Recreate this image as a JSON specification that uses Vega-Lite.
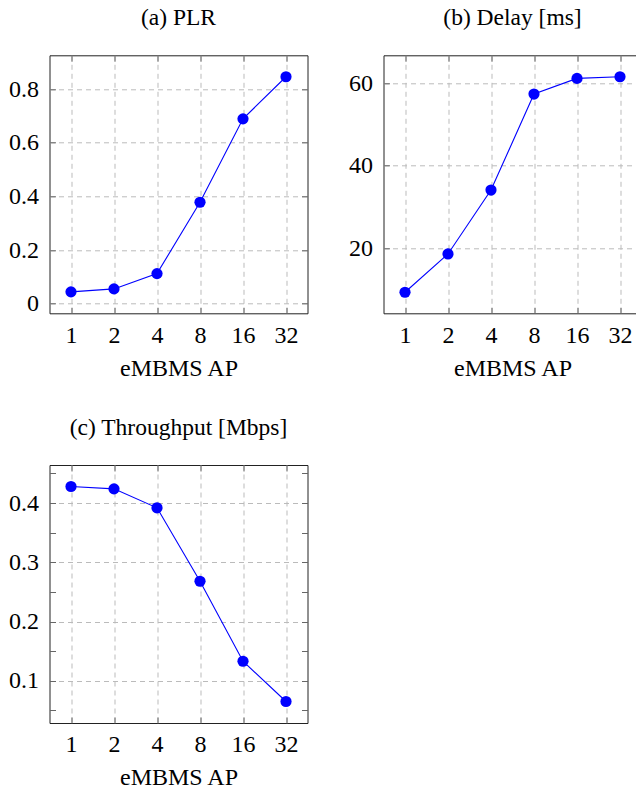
{
  "$schema": "https://vega.github.io/schema/vega-lite/v6.json",
  "autosize": {"type": "none"},
  "padding": {"left": 49.5, "top": 55.3, "right": 586.5, "bottom": 733.7},
  "background": "white",
  "config": {
    "font": "Liberation Serif",
    "view": {"stroke": "#222222", "strokeWidth": 1},
    "title": {"font": "Liberation Serif", "fontSize": 23.5, "fontWeight": "normal", "color": "#000000", "anchor": "middle", "frame": "group", "baseline": "alphabetic", "offset": 25.5},
    "axis": {
      "labelFont": "Liberation Serif", "labelFontSize": 24, "labelColor": "#000000",
      "titleFont": "Liberation Serif", "titleFontSize": 24, "titleFontWeight": "normal", "titleColor": "#000000",
      "domain": false, "tickColor": "#666666", "tickSize": -6, "tickWidth": 1,
      "gridColor": "#bbbbbb", "gridDash": [5, 4], "gridWidth": 1
    }
  },
  "datasets": {
    "plr": [
      {"ap": 1, "v": 0.044}, {"ap": 2, "v": 0.055}, {"ap": 4, "v": 0.112},
      {"ap": 8, "v": 0.378}, {"ap": 16, "v": 0.689}, {"ap": 32, "v": 0.846}
    ],
    "delay": [
      {"ap": 1, "v": 9.3}, {"ap": 2, "v": 18.6}, {"ap": 4, "v": 34.1},
      {"ap": 8, "v": 57.4}, {"ap": 16, "v": 61.2}, {"ap": 32, "v": 61.6}
    ],
    "thr": [
      {"ap": 1, "v": 0.428}, {"ap": 2, "v": 0.424}, {"ap": 4, "v": 0.392},
      {"ap": 8, "v": 0.268}, {"ap": 16, "v": 0.133}, {"ap": 32, "v": 0.065}
    ]
  },
  "vconcat": [
    {
      "hconcat": [
        {
          "width": 258, "height": 258,
          "title": {"text": "(a) PLR"},
          "data": {"name": "plr"},
          "layer": [
            {
              "mark": {"type": "line", "color": "#0000ff", "strokeWidth": 1.1},
              "encoding": {
                "x": {"field": "ap", "type": "ordinal", "scale": {"type": "point", "domain": [1, 2, 4, 8, 16, 32], "padding": 0.5},
                      "axis": {"orient": "bottom", "title": "eMBMS AP", "grid": true, "labelAngle": 0, "labelBaseline": "alphabetic", "labelPadding": 34.7, "titleBaseline": "alphabetic", "titleY": 61.7}},
                "y": {"field": "v", "type": "quantitative", "scale": {"domain": [-0.036, 0.926], "nice": false, "zero": false},
                      "axis": {"orient": "left", "title": null, "grid": true, "values": [0, 0.2, 0.4, 0.6, 0.8], "format": "~r", "labelPadding": 17}}
              }
            },
            {
              "mark": {"type": "point", "filled": true, "color": "#0000ff", "opacity": 1, "size": 125},
              "encoding": {
                "x": {"field": "ap", "type": "ordinal", "scale": {"type": "point", "domain": [1, 2, 4, 8, 16, 32], "padding": 0.5},
                      "axis": {"orient": "top", "title": null, "labels": false, "grid": false}},
                "y": {"field": "v", "type": "quantitative", "scale": {"domain": [-0.036, 0.926], "nice": false, "zero": false},
                      "axis": {"orient": "right", "title": null, "labels": false, "grid": false, "values": [0, 0.2, 0.4, 0.6, 0.8]}}
              }
            }
          ],
          "resolve": {"axis": {"x": "independent", "y": "independent"}}
        },
        {
          "width": 258, "height": 258,
          "title": {"text": "(b) Delay [ms]"},
          "data": {"name": "delay"},
          "layer": [
            {
              "mark": {"type": "line", "color": "#0000ff", "strokeWidth": 1.1},
              "encoding": {
                "x": {"field": "ap", "type": "ordinal", "scale": {"type": "point", "domain": [1, 2, 4, 8, 16, 32], "padding": 0.5},
                      "axis": {"orient": "bottom", "title": "eMBMS AP", "grid": true, "labelAngle": 0, "labelBaseline": "alphabetic", "labelPadding": 34.7, "titleBaseline": "alphabetic", "titleY": 61.7}},
                "y": {"field": "v", "type": "quantitative", "scale": {"domain": [4.2, 66.8], "nice": false, "zero": false},
                      "axis": {"orient": "left", "title": null, "grid": true, "values": [20, 40, 60], "format": "~r", "labelPadding": 17}}
              }
            },
            {
              "mark": {"type": "point", "filled": true, "color": "#0000ff", "opacity": 1, "size": 125},
              "encoding": {
                "x": {"field": "ap", "type": "ordinal", "scale": {"type": "point", "domain": [1, 2, 4, 8, 16, 32], "padding": 0.5},
                      "axis": {"orient": "top", "title": null, "labels": false, "grid": false}},
                "y": {"field": "v", "type": "quantitative", "scale": {"domain": [4.2, 66.8], "nice": false, "zero": false},
                      "axis": {"orient": "right", "title": null, "labels": false, "grid": false, "values": [20, 40, 60]}}
              }
            }
          ],
          "resolve": {"axis": {"x": "independent", "y": "independent"}}
        }
      ],
      "spacing": 76,
      "bounds": "flush"
    },
    {
      "width": 258, "height": 258,
      "title": {"text": "(c) Throughput [Mbps]"},
      "data": {"name": "thr"},
      "layer": [
        {
          "mark": {"type": "line", "color": "#0000ff", "strokeWidth": 1.1},
          "encoding": {
            "x": {"field": "ap", "type": "ordinal", "scale": {"type": "point", "domain": [1, 2, 4, 8, 16, 32], "padding": 0.5},
                  "axis": {"orient": "bottom", "title": "eMBMS AP", "grid": true, "labelAngle": 0, "labelBaseline": "alphabetic", "labelPadding": 34.7, "titleBaseline": "alphabetic", "titleY": 61.7}},
            "y": {"field": "v", "type": "quantitative", "scale": {"domain": [0.0287, 0.4643], "nice": false, "zero": false},
                  "axis": {"orient": "left", "title": null, "grid": true,
                           "values": [0.05, 0.1, 0.15, 0.2, 0.25, 0.3, 0.35, 0.4, 0.45],
                           "labelExpr": "abs(datum.value*10 - round(datum.value*10)) < 0.001 ? format(datum.value, '.1f') : ''",
                           "gridOpacity": {"condition": {"test": "abs(datum.value*10 - round(datum.value*10)) < 0.001", "value": 1}, "value": 0},
                           "labelPadding": 17}}
          }
        },
        {
          "mark": {"type": "point", "filled": true, "color": "#0000ff", "opacity": 1, "size": 125},
          "encoding": {
            "x": {"field": "ap", "type": "ordinal", "scale": {"type": "point", "domain": [1, 2, 4, 8, 16, 32], "padding": 0.5},
                  "axis": {"orient": "top", "title": null, "labels": false, "grid": false}},
            "y": {"field": "v", "type": "quantitative", "scale": {"domain": [0.0287, 0.4643], "nice": false, "zero": false},
                  "axis": {"orient": "right", "title": null, "labels": false, "grid": false,
                           "values": [0.05, 0.1, 0.15, 0.2, 0.25, 0.3, 0.35, 0.4, 0.45]}}
          }
        }
      ],
      "resolve": {"axis": {"x": "independent", "y": "independent"}}
    }
  ],
  "spacing": 409.7,
  "bounds": "flush"
}
